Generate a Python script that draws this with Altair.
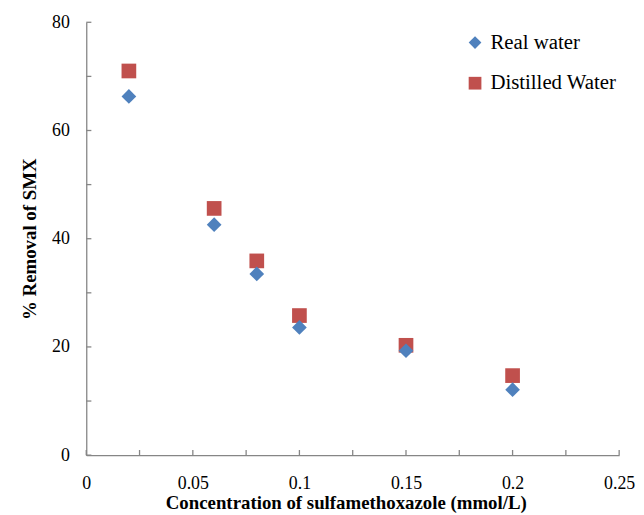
import altair as alt
import pandas as pd

conc = [0.02, 0.06, 0.08, 0.10, 0.15, 0.20]
real_water = [66.3, 42.6, 33.5, 23.6, 19.3, 12.1]
distilled_water = [71.0, 45.6, 35.9, 25.8, 20.3, 14.7]
series_names = ["Real water", "Distilled Water"]
series_colors = ["#4F81BD", "#C0504D"]
series_shapes = ["diamond", "square"]
x_ticks = [0, 0.025, 0.05, 0.075, 0.1, 0.125, 0.15, 0.175, 0.2, 0.225, 0.25]
x_labels = [0, 0.05, 0.1, 0.15, 0.2, 0.25]
y_ticks = [0, 10, 20, 30, 40, 50, 60, 70, 80]
y_labels = [0, 20, 40, 60, 80]

rows = []
for c, v in zip(conc, real_water):
    rows.append({"conc": c, "val": v, "series": series_names[0]})
for c, v in zip(conc, distilled_water):
    rows.append({"conc": c, "val": v, "series": series_names[1]})
df = pd.DataFrame(rows)

FONT = "Liberation Serif"
W, H = 538, 437

xscale = alt.Scale(domain=[0, 0.25], nice=False, zero=True)
yscale = alt.Scale(domain=[0, 80], nice=False, zero=True)

points = alt.Chart(df).mark_point(filled=True, opacity=1, size=220).encode(
    x=alt.X("conc:Q", scale=xscale,
            axis=alt.Axis(values=x_labels, tickSize=0, labelPadding=20,
                          title="Concentration of sulfamethoxazole (mmol/L)",
                          titlePadding=1, titleX=262, labelFlush=False,
                          labelExpr="format(datum.value, '.3~g')")),
    y=alt.Y("val:Q", scale=yscale,
            axis=alt.Axis(values=y_labels, tickSize=0, labelPadding=17,
                          title="% Removal of SMX", titlePadding=12)),
    color=alt.Color("series:N", scale=alt.Scale(domain=series_names, range=series_colors),
                    legend=alt.Legend(title=None, orient="none", legendX=382, legendY=10,
                                      symbolSize=165, rowPadding=19, labelOffset=5,
                                      labelFont=FONT, labelFontSize=21, labelColor="#000000",
                                      symbolStrokeWidth=0, padding=0)),
    shape=alt.Shape("series:N", scale=alt.Scale(domain=series_names, range=series_shapes)),
    order=alt.Order("series:N", sort="ascending"),
)

xt = pd.DataFrame({"t": x_ticks})
yt = pd.DataFrame({"t": y_ticks})

xtick_rules = alt.Chart(xt).mark_rule(color="#868686", strokeWidth=1.3).encode(
    x=alt.X("t:Q", scale=xscale),
    y=alt.Y(datum=0),
    y2=alt.datum(0.95),
)
ytick_rules = alt.Chart(yt).mark_rule(color="#868686", strokeWidth=1.3).encode(
    y=alt.Y("t:Q", scale=yscale),
    x=alt.X(datum=0),
    x2=alt.datum(0.0024),
)

chart = alt.layer(points, xtick_rules, ytick_rules).properties(
    width=W, height=H,
    autosize=alt.AutoSizeParams(type="none"),
    padding={"left": 79, "top": 12, "right": 17, "bottom": 58},
).configure(background="white").configure_view(stroke=None).configure_axis(
    grid=False,
    domainColor="#868686",
    domainWidth=1.3,
    labelFont=FONT,
    labelFontSize=18,
    labelColor="#000000",
    titleFont=FONT,
    titleFontSize=19,
    titleFontWeight="bold",
    titleColor="#000000",
)

chart.save("out.html", embed_options={"renderer": "svg", "actions": False})
